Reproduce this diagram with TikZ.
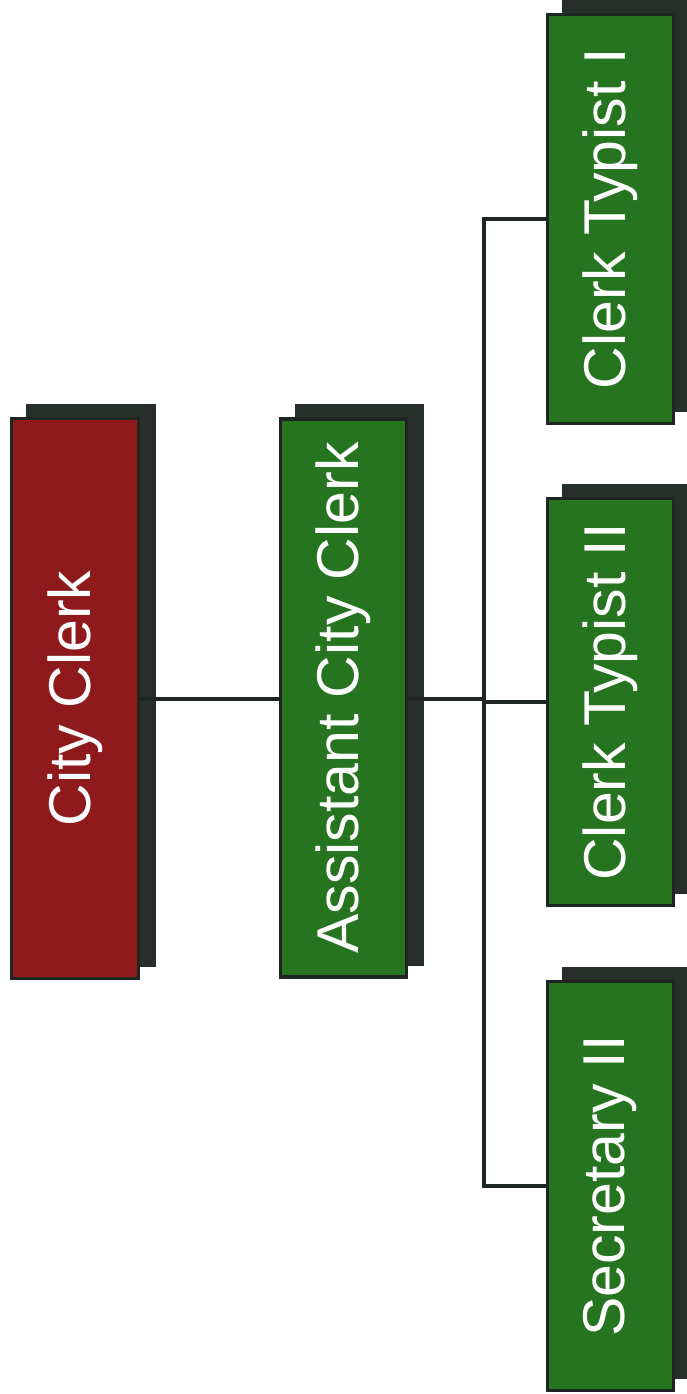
\documentclass[tikz,border=0pt]{standalone}
\usepackage{fontspec}
\setmainfont{Liberation Sans}
\usetikzlibrary{shadows}
\definecolor{redbox}{RGB}{142,26,28}
\definecolor{greenbox}{RGB}{38,116,32}
\definecolor{edge}{RGB}{30,38,34}
\definecolor{shade}{RGB}{40,46,42}
\tikzset{
  box/.style={draw=edge, line width=3.5pt, minimum width=127pt, inner sep=0pt,
    general shadow={shadow xshift=16pt, shadow yshift=13pt, fill=shade, draw=shade, line width=3.5pt},
    text=white, font=\fontsize{59}{62}\selectfont, rotate=90},
  link/.style={draw=edge, line width=3.5pt}
}
\begin{document}
\begin{tikzpicture}[x=1pt,y=-1pt]
\useasboundingbox[fill=white] (0,0) rectangle (686,1394);
\node[box, fill=redbox, minimum width=560pt, minimum height=127pt] (cc) at (75,698.5) {City Clerk};
\node[box, fill=greenbox, minimum width=558pt, minimum height=126pt] (acc) at (343.5,698) {Assistant City Clerk};
\node[box, fill=greenbox, minimum width=409pt, minimum height=126pt] (ct1) at (610.5,219) {Clerk Typist I};
\node[box, fill=greenbox, minimum width=407pt, minimum height=126pt] (ct2) at (610.5,702) {Clerk Typist II};
\node[box, fill=greenbox, minimum width=409pt, minimum height=126pt] (sec) at (610.5,1186) {Secretary II};
\coordinate (j) at (484,699);
\draw[link] (cc.south |- j) -- (acc.north |- j);
\draw[link] (acc.south |- j) -- (j);
\draw[link] (ct1.north) -| (j);
\draw[link] (sec.north) -| (j);
\draw[link] (ct2.north) -- (ct2.north -| j);
\end{tikzpicture}
\end{document}
